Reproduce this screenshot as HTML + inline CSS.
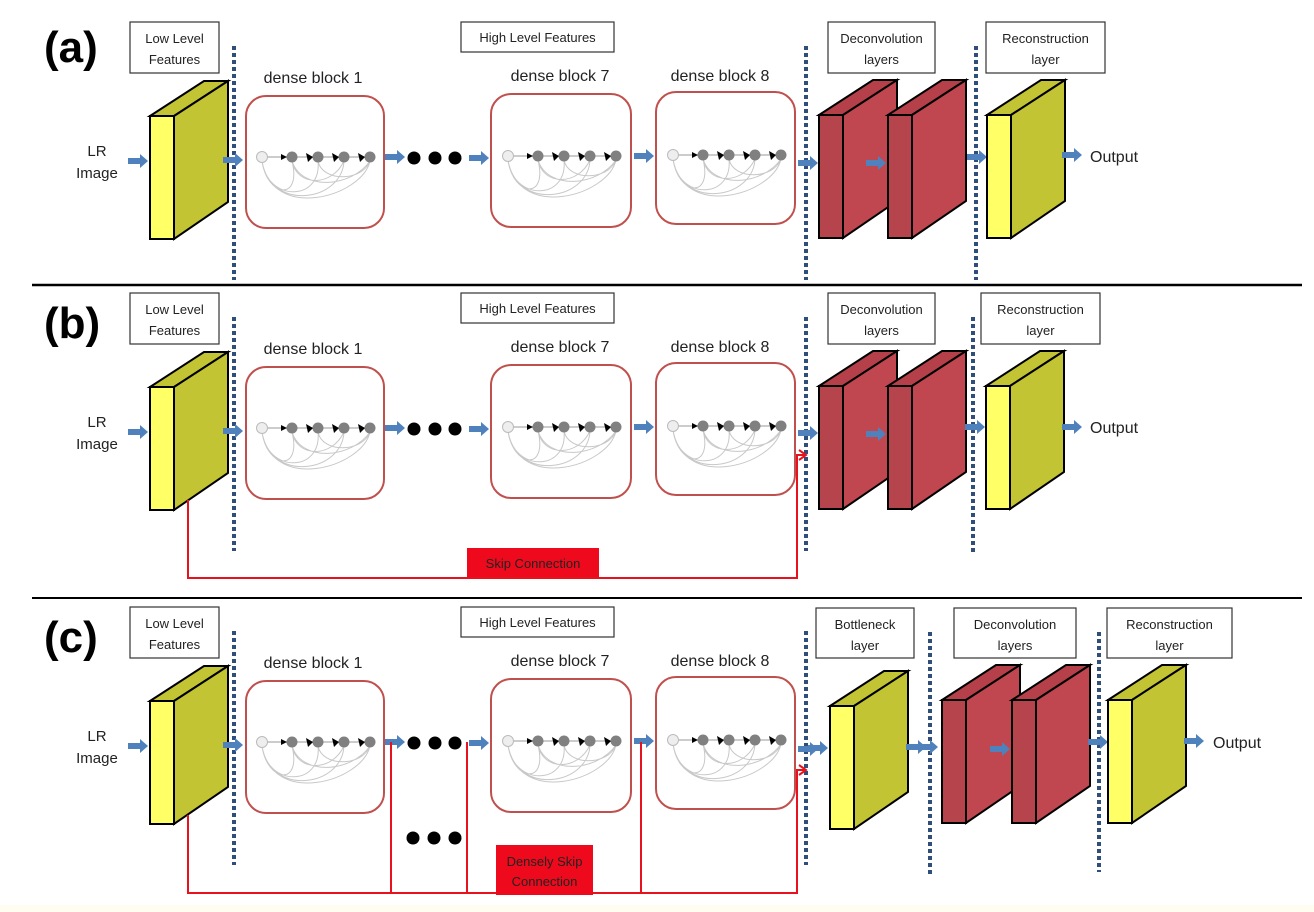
<!DOCTYPE html>
<html><head><style>
html,body{margin:0;padding:0;background:#fff}
svg{display:block}
text{font-family:"Liberation Sans",sans-serif;fill:#222}
</style></head><body>
<svg width="1314" height="912" viewBox="0 0 1314 912" xmlns="http://www.w3.org/2000/svg">
<defs>
<g id="dn">
 <path d="M0,4 C5,40 40,45 30,4 M0,4 C5,45 60,45 56,4 M0,4 C8,55 80,45 82,4 M0,4 C10,65 100,40 108,4 M30,4 C35,30 70,30 82,4 M30,4 C40,35 90,30 108,4 M56,4 C60,25 100,25 108,4" fill="none" stroke="#c8c8c8" stroke-width="1"/>
 <line x1="0" y1="0" x2="108" y2="0" stroke="#999" stroke-width="1"/>
 <circle cx="0" cy="0" r="5.5" fill="#eee" stroke="#bbb"/>
 <circle cx="30" cy="0" r="5.5" fill="#808080"/>
 <circle cx="56" cy="0" r="5.5" fill="#808080"/>
 <circle cx="82" cy="0" r="5.5" fill="#808080"/>
 <circle cx="108" cy="0" r="5.5" fill="#808080"/>
 <path d="M19,-3 L25,0 L19,3Z M44,-4 L51,0 L46,5Z M70,-4 L77,0 L72,5Z M96,-4 L103,0 L98,5Z" fill="#000"/>
</g>
<path id="ar" d="M0,-3 h12 v-4 l8,7 l-8,7 v-4 h-12z" fill="#4f81bd"/>
<g id="ycube">
 <polygon points="0,0 54,-35 78,-35 24,0" fill="#c3c433" stroke="#000" stroke-width="2"/>
 <polygon points="24,0 78,-35 78,86 24,123" fill="#c3c433" stroke="#000" stroke-width="2"/>
 <rect x="0" y="0" width="24" height="123" fill="#ffff66" stroke="#000" stroke-width="2"/>
</g>
<g id="rcube">
 <polygon points="0,0 54,-35 78,-35 24,0" fill="#b5404a" stroke="#000" stroke-width="2"/>
 <polygon points="24,0 78,-35 78,86 24,123" fill="#c0474f" stroke="#000" stroke-width="2"/>
 <rect x="0" y="0" width="24" height="123" fill="#b5444c" stroke="#000" stroke-width="2"/>
</g>
</defs>

<!-- separators -->
<line x1="32" y1="285" x2="1302" y2="285" stroke="#000" stroke-width="2.5"/>
<line x1="32" y1="598" x2="1302" y2="598" stroke="#000" stroke-width="2"/>
<rect x="0" y="905" width="1314" height="7" fill="#fffdf0"/>

<!-- ===== common left part, used for a, b, c ===== -->
<g id="left">
 <rect x="130" y="22" width="89" height="51" fill="#fff" stroke="#333" stroke-width="1.2"/>
 <text x="174.5" y="43" font-size="13" text-anchor="middle">Low Level</text>
 <text x="174.5" y="64" font-size="13" text-anchor="middle">Features</text>
 <rect x="461" y="22" width="153" height="30" fill="#fff" stroke="#333" stroke-width="1.2"/>
 <text x="537.5" y="42" font-size="13" text-anchor="middle">High Level Features</text>
 <line x1="234" y1="46" x2="234" y2="280" stroke="#2f4f7a" stroke-width="4" stroke-dasharray="4,3"/>
 <text x="97" y="156" font-size="15" text-anchor="middle">LR</text>
 <text x="97" y="178" font-size="15" text-anchor="middle">Image</text>
 <use href="#ycube" x="150" y="116"/>
 <text x="313" y="83" font-size="16" text-anchor="middle">dense block 1</text>
 <text x="560" y="81" font-size="16" text-anchor="middle">dense block 7</text>
 <text x="720" y="81" font-size="16" text-anchor="middle">dense block 8</text>
 <rect x="246" y="96" width="138" height="132" rx="20" fill="#fff" stroke="#c0504d" stroke-width="2"/>
 <rect x="491" y="94" width="140" height="133" rx="20" fill="#fff" stroke="#c0504d" stroke-width="2"/>
 <rect x="656" y="92" width="139" height="132" rx="20" fill="#fff" stroke="#c0504d" stroke-width="2"/>
 <use href="#dn" x="262" y="157"/>
 <use href="#dn" x="508" y="156"/>
 <use href="#dn" x="673" y="155"/>
 <use href="#ar" x="128" y="161"/>
 <use href="#ar" x="223" y="160"/>
 <use href="#ar" x="385" y="157"/>
 <circle cx="414" cy="158" r="6.5" fill="#000"/>
 <circle cx="435" cy="158" r="6.5" fill="#000"/>
 <circle cx="455" cy="158" r="6.5" fill="#000"/>
 <use href="#ar" x="469" y="158"/>
 <use href="#ar" x="634" y="156"/>
 <line x1="806" y1="46" x2="806" y2="280" stroke="#2f4f7a" stroke-width="4" stroke-dasharray="4,3"/>
</g>

<!-- (a) right -->
<text x="44" y="62" font-size="44" font-weight="bold" style="fill:#000">(a)</text>
<rect x="828" y="22" width="107" height="51" fill="#fff" stroke="#333" stroke-width="1.2"/>
<text x="881.5" y="43" font-size="13" text-anchor="middle">Deconvolution</text>
<text x="881.5" y="64" font-size="13" text-anchor="middle">layers</text>
<rect x="986" y="22" width="119" height="51" fill="#fff" stroke="#333" stroke-width="1.2"/>
<text x="1045.5" y="43" font-size="13" text-anchor="middle">Reconstruction</text>
<text x="1045.5" y="64" font-size="13" text-anchor="middle">layer</text>
<line x1="976" y1="46" x2="976" y2="280" stroke="#2f4f7a" stroke-width="4" stroke-dasharray="4,3"/>
<use href="#ar" x="798" y="163"/>
<use href="#rcube" x="819" y="115"/>
<use href="#rcube" x="888" y="115"/>
<use href="#ar" x="866" y="163"/>
<use href="#ar" x="967" y="157"/>
<use href="#ycube" x="987" y="115"/>
<use href="#ar" x="1062" y="155"/>
<text x="1090" y="162" font-size="16">Output</text>

<!-- (b) -->
<use href="#left" x="0" y="271"/>
<text x="44" y="338" font-size="44" font-weight="bold" style="fill:#000">(b)</text>
<rect x="828" y="293" width="107" height="51" fill="#fff" stroke="#333" stroke-width="1.2"/>
<text x="881.5" y="314" font-size="13" text-anchor="middle">Deconvolution</text>
<text x="881.5" y="335" font-size="13" text-anchor="middle">layers</text>
<rect x="981" y="293" width="119" height="51" fill="#fff" stroke="#333" stroke-width="1.2"/>
<text x="1040.5" y="314" font-size="13" text-anchor="middle">Reconstruction</text>
<text x="1040.5" y="335" font-size="13" text-anchor="middle">layer</text>
<line x1="973" y1="317" x2="973" y2="552" stroke="#2f4f7a" stroke-width="4" stroke-dasharray="4,3"/>
<use href="#ar" x="798" y="433"/>
<use href="#rcube" x="819" y="386"/>
<use href="#rcube" x="888" y="386"/>
<use href="#ar" x="866" y="434"/>
<use href="#ar" x="965" y="427"/>
<use href="#ycube" x="986" y="386"/>
<use href="#ar" x="1062" y="427"/>
<text x="1090" y="433" font-size="16">Output</text>
<path d="M188,500 V578 H797 V455 H806" fill="none" stroke="#e8121f" stroke-width="2"/>
<path d="M799,450 L806,455 L799,460" fill="none" stroke="#e8121f" stroke-width="2"/>
<rect x="467" y="548" width="132" height="29" fill="#ee0a1c"/>
<text x="533" y="568" font-size="13" text-anchor="middle">Skip Connection</text>

<!-- (c) -->
<use href="#left" x="0" y="585"/>
<rect x="100" y="600" width="0" height="0"/>
<text x="44" y="652" font-size="44" font-weight="bold" style="fill:#000">(c)</text>
<path d="M188,815 V893 H797 V770 H806 M391,893 V742 M467,893 V742 M641,893 V742" fill="none" stroke="#e8121f" stroke-width="2"/>
<path d="M799,765 L806,770 L799,775" fill="none" stroke="#e8121f" stroke-width="2"/>
<circle cx="413" cy="838" r="6.5" fill="#000"/>
<circle cx="434" cy="838" r="6.5" fill="#000"/>
<circle cx="455" cy="838" r="6.5" fill="#000"/>
<rect x="496" y="845" width="97" height="50" fill="#ee0a1c"/>
<text x="544.5" y="866" font-size="13" text-anchor="middle">Densely Skip</text>
<text x="544.5" y="886" font-size="13" text-anchor="middle">Connection</text>
<rect x="816" y="608" width="98" height="50" fill="#fff" stroke="#333" stroke-width="1.2"/>
<text x="865" y="629" font-size="13" text-anchor="middle">Bottleneck</text>
<text x="865" y="650" font-size="13" text-anchor="middle">layer</text>
<rect x="954" y="608" width="122" height="50" fill="#fff" stroke="#333" stroke-width="1.2"/>
<text x="1015" y="629" font-size="13" text-anchor="middle">Deconvolution</text>
<text x="1015" y="650" font-size="13" text-anchor="middle">layers</text>
<rect x="1107" y="608" width="125" height="50" fill="#fff" stroke="#333" stroke-width="1.2"/>
<text x="1169.5" y="629" font-size="13" text-anchor="middle">Reconstruction</text>
<text x="1169.5" y="650" font-size="13" text-anchor="middle">layer</text>
<line x1="930" y1="632" x2="930" y2="875" stroke="#2f4f7a" stroke-width="4" stroke-dasharray="4,3"/>
<line x1="1099" y1="632" x2="1099" y2="872" stroke="#2f4f7a" stroke-width="4" stroke-dasharray="4,3"/>
<use href="#ar" x="798" y="749"/>
<use href="#ar" x="808" y="748"/>
<use href="#ycube" x="830" y="706"/>
<use href="#ar" x="906" y="747"/>
<use href="#ar" x="918" y="747"/>
<use href="#rcube" x="942" y="700"/>
<use href="#rcube" x="1012" y="700"/>
<use href="#ar" x="990" y="749"/>
<use href="#ar" x="1088" y="742"/>
<use href="#ycube" x="1108" y="700"/>
<use href="#ar" x="1184" y="741"/>
<text x="1213" y="748" font-size="16">Output</text>
</svg>
</body></html>
